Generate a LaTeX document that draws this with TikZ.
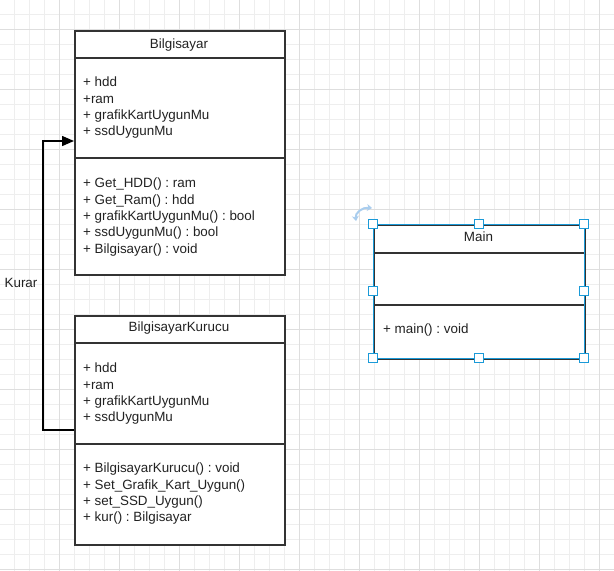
\documentclass[tikz,border=0pt]{standalone}
\usepackage{fontspec}
\setmainfont{Liberation Sans}
\usetikzlibrary{arrows.meta}
\frenchspacing
\definecolor{minorgrid}{HTML}{EEEEEE}
\definecolor{majorgrid}{HTML}{DEDEDE}
\definecolor{boxcol}{HTML}{333333}
\definecolor{txtcol}{HTML}{222222}
\definecolor{selblue}{HTML}{1A9AD8}
\definecolor{rotblue}{HTML}{A9CDEE}
\tikzset{
  minorline/.style={draw=minorgrid, line width=1pt},
  majorline/.style={draw=majorgrid, line width=1pt},
  classbox/.style={draw=boxcol, fill=white, line width=1.5pt, inner sep=0pt, anchor=north west},
  divider/.style={draw=boxcol, line width=1.5pt},
  txt/.style={inner sep=0pt, text=txtcol, font=\fontsize{13.4}{16}\selectfont},
  conn/.style={draw=black, line width=1.4pt, -{Triangle[length=12pt,width=10pt]}},
  handle/.style={draw=selblue, fill=white, line width=1pt, minimum size=9pt, inner sep=0pt},
  selrect/.style={draw=selblue, line width=0.9pt},
  rotarrow/.style={draw=rotblue, line width=2pt, {Stealth[length=5pt,width=7pt]}-{Stealth[length=5pt,width=7pt]}}
}
\begin{document}
\begin{tikzpicture}[x=1pt,y=-1pt]
\useasboundingbox (0,0) rectangle (614,571);
\fill[white] (0,0) rectangle (614,571);
% grid
\foreach \i in {0,...,39} {
  \pgfmathsetmacro\gx{14.5+15*\i}
  \draw[minorline] (\gx,0) -- (\gx,571);
}
\foreach \i in {0,...,37} {
  \pgfmathsetmacro\gy{14.3+15*\i}
  \draw[minorline] (0,\gy) -- (614,\gy);
}
\foreach \i in {0,...,9} {
  \pgfmathsetmacro\gx{59.5+60*\i}
  \draw[majorline] (\gx,0) -- (\gx,571);
  \pgfmathsetmacro\gy{29.3+60*\i}
  \draw[majorline] (0,\gy) -- (614,\gy);
}

% Bilgisayar
\node[classbox, minimum width=210pt, minimum height=244pt] (bilg) at (74,30) {};
\draw[divider] (bilg.west |- 0,58) -- (bilg.east |- 0,58);
\draw[divider] (bilg.west |- 0,158) -- (bilg.east |- 0,158);
\node[txt, anchor=base] (bt) at (179,48.8) {Bilgisayar};
\node[txt, anchor=base west] (ba1) at (83,86.8) {+ hdd};
\node[txt, anchor=base west] (ba2) at (83,103.1) {+ram};
\node[txt, anchor=base west] (ba3) at (83,119.4) {+ grafikKartUygunMu};
\node[txt, anchor=base west] (ba4) at (83,135.7) {+ ssdUygunMu};
\node[txt, anchor=base west] (bm1) at (83,187.8) {+ Get\_HDD() : ram};
\node[txt, anchor=base west] (bm2) at (83,204.1) {+ Get\_Ram() : hdd};
\node[txt, anchor=base west] (bm3) at (83,220.4) {+ grafikKartUygunMu() : bool};
\node[txt, anchor=base west] (bm4) at (83,236.7) {+ ssdUygunMu() : bool};
\node[txt, anchor=base west] (bm5) at (83,253.0) {+ Bilgisayar() : void};

% BilgisayarKurucu
\node[classbox, minimum width=210pt, minimum height=229pt] (kur) at (74,315) {};
\draw[divider] (kur.west |- 0,343) -- (kur.east |- 0,343);
\draw[divider] (kur.west |- 0,444) -- (kur.east |- 0,444);
\node[txt, anchor=base] (kt) at (179,331.8) {BilgisayarKurucu};
\node[txt, anchor=base west] (ka1) at (83,372.8) {+ hdd};
\node[txt, anchor=base west] (ka2) at (83,389.1) {+ram};
\node[txt, anchor=base west] (ka3) at (83,405.4) {+ grafikKartUygunMu};
\node[txt, anchor=base west] (ka4) at (83,421.7) {+ ssdUygunMu};
\node[txt, anchor=base west] (km1) at (83,472.8) {+ BilgisayarKurucu() : void};
\node[txt, anchor=base west] (km2) at (83,489.1) {+ Set\_Grafik\_Kart\_Uygun()};
\node[txt, anchor=base west] (km3) at (83,505.4) {+ set\_SSD\_Uygun()};
\node[txt, anchor=base west] (km4) at (83,521.7) {+ kur() : Bilgisayar};

% connector
\draw[conn] (kur.west |- 0,430) -| (43,141) -- (bilg.west |- 0,141);
\node[txt, anchor=base] (kurar) at (21,287.8) {Kurar};

% Main
\node[classbox, minimum width=211pt, minimum height=134pt] (main) at (373,224) {};
\draw[divider] (main.west |- 0,253) -- (main.east |- 0,253);
\draw[divider] (main.west |- 0,305) -- (main.east |- 0,305);
\node[txt, anchor=base] (mt) at (478.5,241.8) {Main};
\node[txt, anchor=base west] (mm1) at (383,333.8) {+ main() : void};
\draw[selrect] (373,224) rectangle (584,358);
\node[handle] (h1) at (373,224) {};
\node[handle] (h2) at (478.5,224) {};
\node[handle] (h3) at (584,224) {};
\node[handle] (h4) at (373,291) {};
\node[handle] (h5) at (584,291) {};
\node[handle] (h6) at (373,358) {};
\node[handle] (h7) at (478.5,358) {};
\node[handle] (h8) at (584,358) {};
\draw[rotarrow] (356,221) .. controls (355,213) and (362,207) .. (372,208);
\end{tikzpicture}
\end{document}
